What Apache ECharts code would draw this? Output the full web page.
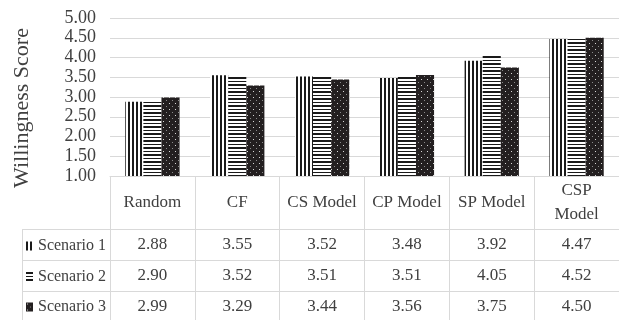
<!DOCTYPE html>
<html><head><meta charset="utf-8">
<script src="https://cdn.jsdelivr.net/npm/echarts@6/dist/echarts.min.js"></script>
<style>html,body{margin:0;padding:0;background:#fff;overflow:hidden}#c{width:619px;height:320px}</style>
</head><body><div id="c"></div><script>
const categories = ['Random', 'CF', 'CS Model', 'CP Model', 'SP Model', 'CSP\nModel'];
const seriesNames = ['Scenario 1', 'Scenario 2', 'Scenario 3'];
const scenario1 = [2.88, 3.55, 3.52, 3.48, 3.92, 4.47];
const scenario2 = [2.90, 3.52, 3.51, 3.51, 4.05, 4.52];
const scenario3 = [2.99, 3.29, 3.44, 3.56, 3.75, 4.50];
const yMin = 1, yMax = 5, yStep = 0.5;
const yAxisTitle = 'Willingness Score';

const FONT = "'Liberation Serif','Times New Roman',serif";
const TXT = '#404040';
const LINE = '#d9d9d9';
const PLOT_LEFT = 110, PLOT_TOP = 18, PLOT_BOTTOM_Y = 176, H = 320;
const ROW_OFFSETS = [53, 84, 115];
const TABLE_LEFT = 22;

function makePattern(w, h, draw) {
  const c = document.createElement('canvas'); c.width = w; c.height = h;
  const g = c.getContext('2d'); draw(g);
  return { image: c, repeat: 'repeat' };
}
const pVert = makePattern(4, 4, g => { g.fillStyle = '#fff'; g.fillRect(0, 0, 4, 4); g.fillStyle = '#1a1a1a'; g.fillRect(0, 0, 2, 4); });
const pHorz = makePattern(4, 7, g => { g.fillStyle = '#fff'; g.fillRect(0, 0, 4, 7); g.fillStyle = '#1a1a1a'; g.fillRect(0, 0, 4, 2); g.fillRect(0, 4, 4, 1); });
const pDot = makePattern(6, 6, g => { g.fillStyle = '#231f20'; g.fillRect(0, 0, 6, 6); g.fillStyle = '#d8d8d8'; g.fillRect(1, 1, 1, 1); g.fillStyle = '#8a8a8a'; g.fillRect(4, 4, 1, 1); });
const patterns = [pVert, pHorz, pDot];
const seriesData = [scenario1, scenario2, scenario3];

const chart = echarts.init(document.getElementById('c'), null, { renderer: 'canvas' });

const xAxes = [{
  type: 'category', data: categories, position: 'bottom', gridIndex: 0,
  axisLine: { show: true, onZero: false, lineStyle: { color: LINE } },
  axisTick: { show: true, length: H - PLOT_BOTTOM_Y, interval: 0, lineStyle: { color: LINE } },
  axisLabel: { interval: 0, margin: 27, verticalAlign: 'middle', fontSize: 17, lineHeight: 24, color: TXT, fontFamily: FONT },
  splitLine: { show: false }
}];
seriesData.forEach((arr, i) => {
  xAxes.push({
    type: 'category', data: arr.map(v => v.toFixed(2)), position: 'bottom', gridIndex: 0, offset: ROW_OFFSETS[i],
    axisLine: { show: true, onZero: false, lineStyle: { color: LINE } },
    axisTick: { show: false },
    axisLabel: { interval: 0, margin: 16, verticalAlign: 'middle', fontSize: 17, color: TXT, fontFamily: FONT },
    splitLine: { show: false }
  });
});

const graphics = [{ type: 'line', shape: { x1: TABLE_LEFT + 0.5, y1: PLOT_BOTTOM_Y + ROW_OFFSETS[0], x2: TABLE_LEFT + 0.5, y2: H }, style: { stroke: LINE, lineWidth: 1 } }];
ROW_OFFSETS.forEach(o => graphics.push({ type: 'line', shape: { x1: TABLE_LEFT, y1: PLOT_BOTTOM_Y + o + 0.5, x2: PLOT_LEFT, y2: PLOT_BOTTOM_Y + o + 0.5 }, style: { stroke: LINE, lineWidth: 1 } }));

chart.setOption({
  animation: false,
  backgroundColor: '#fff',
  grid: { left: PLOT_LEFT, top: PLOT_TOP, right: -11, bottom: H - PLOT_BOTTOM_Y, containLabel: false },
  legend: {
    orient: 'vertical', left: TABLE_LEFT + 4, top: 236, padding: 0, itemGap: 10.5, itemWidth: 7, itemHeight: 9,
    selectedMode: false, icon: 'rect',
    textStyle: { fontSize: 16, lineHeight: 20, color: TXT, fontFamily: FONT },
    data: seriesNames
  },
  xAxis: xAxes,
  yAxis: {
    type: 'value', min: yMin, max: yMax, interval: yStep,
    axisLine: { show: false }, axisTick: { show: false },
    axisLabel: { formatter: v => v.toFixed(2), margin: 14, fontSize: 18, color: TXT, fontFamily: FONT },
    splitLine: { lineStyle: { color: LINE } },
    name: yAxisTitle, nameLocation: 'middle', nameGap: 77,
    nameTextStyle: { fontSize: 22, color: TXT, fontFamily: FONT, padding: [0, 22, 0, 0] }
  },
  graphic: graphics,
  series: seriesData.map((arr, i) => ({
    name: seriesNames[i], type: 'bar', xAxisIndex: 0, yAxisIndex: 0, data: arr,
    barGap: '0%', barCategoryGap: '36%',
    itemStyle: { color: patterns[i] }
  }))
});
</script></body></html>
